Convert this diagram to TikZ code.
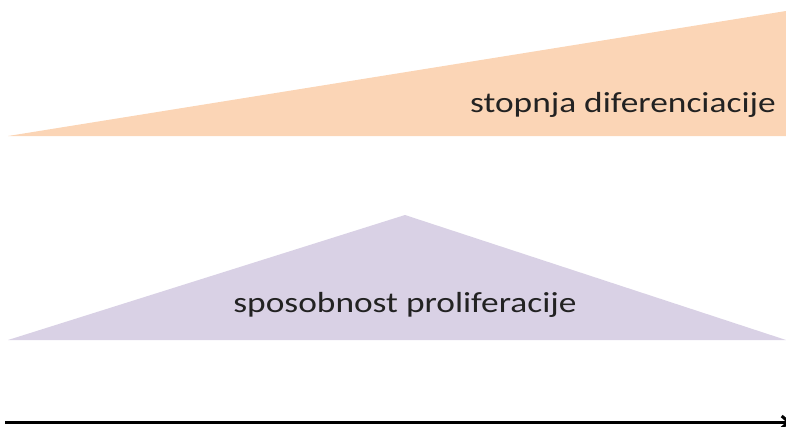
\documentclass[tikz,border=0pt]{standalone}
\usepackage{fontspec}
\setmainfont{Carlito}
\usepackage{xcolor}
\usetikzlibrary{calc, positioning, arrows.meta}
\definecolor{diffFill}{HTML}{FBD5B6}
\definecolor{prolFill}{HTML}{D9D1E5}
\definecolor{labelText}{HTML}{222222}
\tikzset{
    wedge/.style={draw=none},
    label/.style={font=\fontsize{29}{34}\selectfont, text=labelText, inner sep=0pt, anchor=base, xscale=1.22, transform shape},
    timeline/.style={-{Straight Barb[length=7pt, width=12pt]}, line width=3pt, black}
}

\begin{document}
\begin{tikzpicture}[x=1pt, y=-1pt]
        \useasboundingbox (0,0) rectangle (786,426);
        % Differentiation wedge
        \fill[wedge, diffFill] (8,136) -- (786,11) -- (786,136) -- cycle;
        \node[label, anchor=base east] (Diff) at (776,112) {stopnja diferenciacije};

        % Proliferation triangle
        \fill[wedge, prolFill] (8,340) -- (405,215) -- (786,340) -- cycle;
        \node[label] (Prol) at (405,312) {sposobnost proliferacije};

        % Time axis
        \coordinate (AxisStart) at (5,422);
        \coordinate (AxisEnd) at (791,422);
        \draw[timeline] (AxisStart) -- (AxisEnd);
    \end{tikzpicture}
\end{document}
